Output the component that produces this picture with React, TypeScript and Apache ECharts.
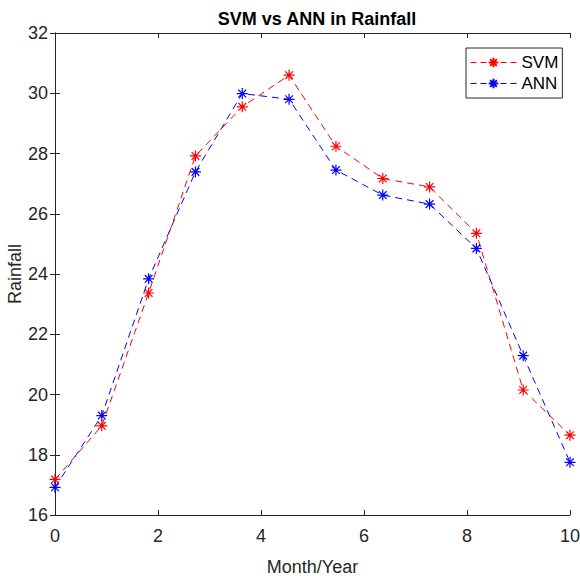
import React, { useEffect, useRef } from "react";
import * as echarts from "echarts";

const xValues = [0, 0.909, 1.818, 2.727, 3.636, 4.545, 5.455, 6.364, 7.273, 8.182, 9.091, 10];
const svmValues = [17.18, 18.96, 23.37, 27.92, 29.55, 30.6, 28.24, 27.17, 26.89, 25.35, 20.15, 18.65];
const annValues = [16.92, 19.3, 23.84, 27.39, 29.99, 29.8, 27.45, 26.62, 26.32, 24.85, 21.29, 17.75];

const titleText = "SVM vs ANN in Rainfall";
const xName = "Month/Year";
const yName = "Rainfall";

const STAR = "path://M0,-10L0,10M-10,0L10,0M-7,-7L7,7M-7,7L7,-7";
const AXIS = "#262626";
const FONT = "'Liberation Sans', Arial, sans-serif";

export default function App() {
  const ref = useRef<HTMLDivElement>(null);
  useEffect(() => {
    if (!ref.current) return;
    const chart = echarts.init(ref.current, undefined, { renderer: "svg" });
    const mk = (name: string, vals: number[], color: string) => ({
      name,
      type: "line",
      data: xValues.map((x, i) => [x, vals[i]]),
      symbol: STAR,
      symbolSize: 11,
      showAllSymbol: true,
      lineStyle: { color, width: 1, type: [7, 5] },
      itemStyle: { color, borderColor: color, borderWidth: 1.2 },
      emphasis: { disabled: true },
    });
    const axisCommon = {
      axisLine: { show: true, lineStyle: { color: AXIS, width: 1 } },
      axisTick: { show: true, inside: true, length: 5, lineStyle: { color: AXIS } },
      splitLine: { show: false },
    };
    chart.setOption({
      animation: false,
      backgroundColor: "#fff",
      title: {
        text: titleText,
        left: 312,
        textAlign: "center",
        top: 5,
        textStyle: { fontFamily: FONT, fontSize: 18, fontWeight: "bold", color: "#000" },
      },
      legend: {
        orient: "vertical",
        left: 466,
        top: 48,
        padding: [6, 4, 6, 4],
        itemGap: 4,
        itemWidth: 46,
        itemHeight: 12,
        borderColor: AXIS,
        borderWidth: 1,
        backgroundColor: "#fff",
        lineStyle: { width: 1, type: [6, 4] },
        textStyle: { fontFamily: FONT, fontSize: 17, color: "#000" },
        data: ["SVM", "ANN"],
      },
      grid: { left: 55, right: 10, top: 33, bottom: 61, containLabel: false, outerBoundsMode: "none" },
      xAxis: [
        {
          type: "value",
          min: 0,
          max: 10,
          interval: 2,
          name: xName,
          nameLocation: "middle",
          nameGap: 43,
          nameMoveOverlap: false,
          nameTextStyle: { fontFamily: FONT, fontSize: 18, color: AXIS },
          axisLabel: { fontFamily: FONT, fontSize: 18, color: AXIS, margin: 12 },
          ...axisCommon,
        },
        {
          type: "value",
          position: "top",
          min: 0,
          max: 10,
          interval: 2,
          axisLabel: { show: false },
          ...axisCommon,
        },
      ],
      yAxis: [
        {
          type: "value",
          min: 16,
          max: 32,
          interval: 2,
          name: yName,
          nameLocation: "middle",
          nameGap: 31,
          nameMoveOverlap: false,
          nameTextStyle: { fontFamily: FONT, fontSize: 18, color: AXIS },
          axisLabel: { fontFamily: FONT, fontSize: 18, color: AXIS, margin: 7 },
          ...axisCommon,
        },
        {
          type: "value",
          position: "right",
          min: 16,
          max: 32,
          interval: 2,
          axisLabel: { show: false },
          ...axisCommon,
        },
      ],
      series: [mk("SVM", svmValues, "#ff0000"), mk("ANN", annValues, "#0000ff")],
    });
    return () => chart.dispose();
  }, []);
  return (
    <div
      ref={ref}
      style={{ position: "fixed", left: 0, top: 0, width: 580, height: 576, background: "#fff" }}
    />
  );
}
